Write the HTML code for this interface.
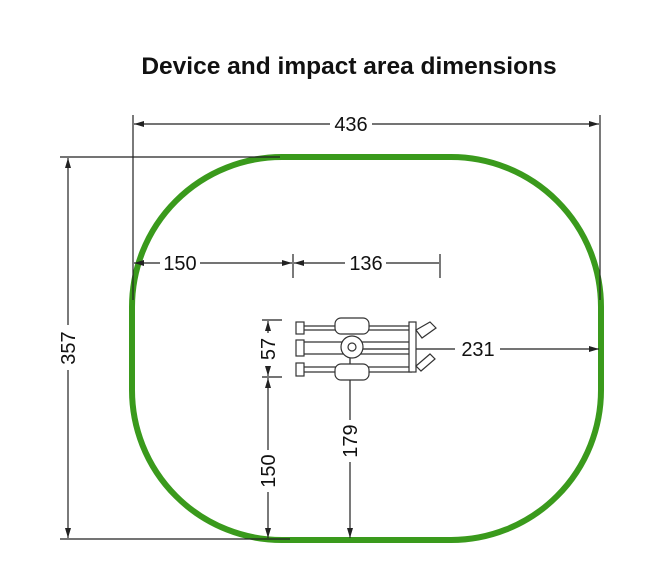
<!DOCTYPE html>
<html><head><style>body{margin:0;background:#fff}svg{display:block}</style></head>
<body>
<svg width="668" height="575" viewBox="0 0 668 575" xmlns="http://www.w3.org/2000/svg" font-family="Liberation Sans, sans-serif">
<defs>
<marker id="a" markerWidth="10" markerHeight="6" refX="10" refY="3" orient="auto-start-reverse" markerUnits="userSpaceOnUse"><path d="M0,0 L10,3 L0,6 z" fill="#222"/></marker>
</defs>
<text x="349" y="74" text-anchor="middle" font-size="24.5" font-weight="bold" fill="#111">Device and impact area dimensions</text>
<rect x="132" y="157" width="469" height="383" rx="150" ry="150" fill="none" stroke="#3a9a1c" stroke-width="6"/>
<g stroke="#222" stroke-width="1.2" fill="none">
<line x1="133" y1="115" x2="133" y2="300"/>
<line x1="600" y1="115" x2="600" y2="300"/>
<line x1="134" y1="124" x2="330" y2="124" marker-start="url(#a)"/>
<line x1="372" y1="124" x2="599" y2="124" marker-end="url(#a)"/>
<line x1="60" y1="157" x2="280" y2="157"/>
<line x1="60" y1="539" x2="290" y2="539"/>
<line x1="68" y1="158" x2="68" y2="325" marker-start="url(#a)"/>
<line x1="68" y1="370" x2="68" y2="538" marker-end="url(#a)"/>
<line x1="134" y1="263" x2="160" y2="263" marker-start="url(#a)"/>
<line x1="200" y1="263" x2="292" y2="263" marker-end="url(#a)"/>
<line x1="293" y1="254" x2="293" y2="278"/>
<line x1="294" y1="263" x2="345" y2="263" marker-start="url(#a)"/>
<line x1="386" y1="263" x2="439" y2="263"/>
<line x1="440" y1="254" x2="440" y2="278"/>
<line x1="355" y1="349" x2="455" y2="349"/>
<line x1="500" y1="349" x2="599" y2="349" marker-end="url(#a)"/>
<line x1="262" y1="320" x2="282" y2="320"/>
<line x1="262" y1="377" x2="282" y2="377"/>
<line x1="268" y1="321" x2="268" y2="333" marker-start="url(#a)"/>
<line x1="268" y1="366" x2="268" y2="376" marker-end="url(#a)"/>
<line x1="268" y1="378" x2="268" y2="450" marker-start="url(#a)"/>
<line x1="268" y1="492" x2="268" y2="538" marker-end="url(#a)"/>
<line x1="350" y1="352" x2="350" y2="420"/>
<line x1="350" y1="462" x2="350" y2="538" marker-end="url(#a)"/>
</g>
<g stroke="#333" stroke-width="1.2" fill="#fff">
<rect x="296" y="322" width="8" height="12"/>
<rect x="296" y="340" width="8" height="16"/>
<rect x="296" y="363" width="8" height="13"/>
<line x1="304" y1="326" x2="412" y2="326"/><line x1="304" y1="330" x2="412" y2="330"/>
<line x1="304" y1="342" x2="412" y2="342"/><line x1="304" y1="354" x2="412" y2="354"/>
<line x1="304" y1="367" x2="412" y2="367"/><line x1="304" y1="372" x2="412" y2="372"/>
<rect x="335" y="318" width="34" height="16" rx="6"/>
<rect x="335" y="364" width="34" height="16" rx="6"/>
<circle cx="352" cy="347" r="11"/>
<circle cx="352" cy="347" r="4"/>
<rect x="409" y="322" width="7" height="50"/>
<path d="M416,330 l14,-8 l6,6 l-14,10 z"/>
<path d="M416,366 l14,-12 l5,5 l-14,12 z"/>
</g>
<g font-size="20" fill="#111">
<text x="351" y="131" text-anchor="middle">436</text>
<text x="180" y="270" text-anchor="middle">150</text>
<text x="366" y="270" text-anchor="middle">136</text>
<text x="478" y="356" text-anchor="middle">231</text>
<text transform="translate(75,348) rotate(-90)" text-anchor="middle">357</text>
<text transform="translate(275,349) rotate(-90)" text-anchor="middle">57</text>
<text transform="translate(275,471) rotate(-90)" text-anchor="middle">150</text>
<text transform="translate(357,441) rotate(-90)" text-anchor="middle">179</text>
</g>
</svg>
</body></html>
